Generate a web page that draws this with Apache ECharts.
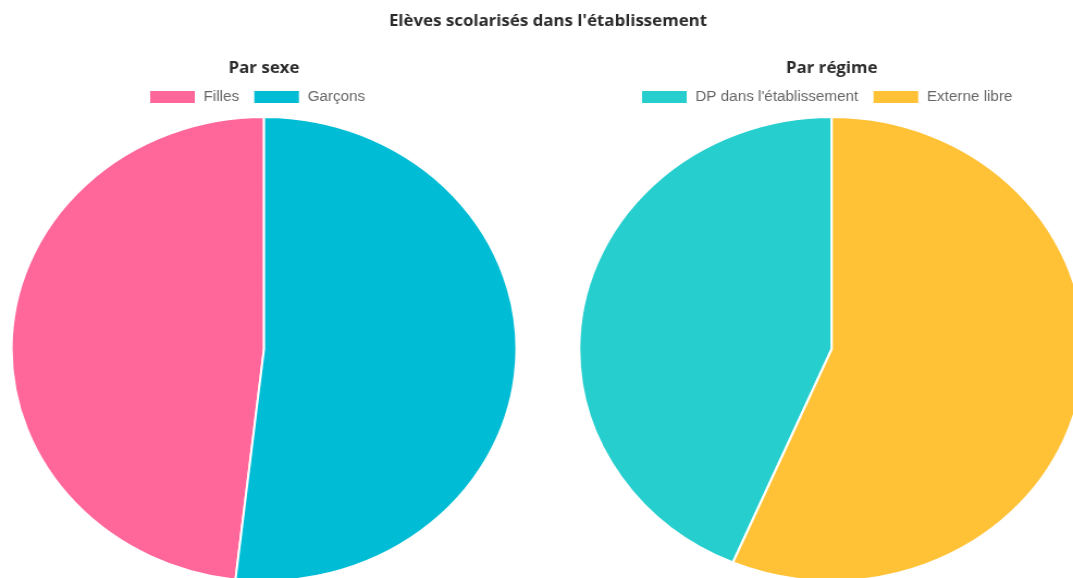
<!DOCTYPE html>
<html>
<head>
<meta charset="utf-8">
<script src="https://cdn.jsdelivr.net/npm/echarts@6/dist/echarts.min.js"></script>
<style>
  html, body { margin: 0; padding: 0; background: #fff; overflow: hidden; }
  #wrap { width: 1073px; height: 578px; overflow: hidden; }
  #chart { width: 986px; height: 578px; transform: scaleX(1.0882); transform-origin: 0 0; }
</style>
</head>
<body>
<div id="wrap"><div id="chart"></div></div>
<script>
const mainTitle = "Elèves scolarisés dans l'établissement";
const sexeTitle = "Par sexe";
const regimeTitle = "Par régime";
const sexeCategories = ["Filles", "Garçons"];
const sexeValues = [48.2, 51.8];
const sexeColors = ["#ff6699", "#00bcd5"];
const regimeCategories = ["DP dans l'établissement", "Externe libre"];
const regimeValues = [43.6, 56.4];
const regimeColors = ["#26cece", "#ffc236"];

const chart = echarts.init(document.getElementById('chart'), null, { renderer: 'canvas' });
const titleFont = { fontFamily: 'Open Sans', fontWeight: 'bold', color: '#2b2b2b' };
const legendCommon = {
  icon: 'rect', itemWidth: 43, itemHeight: 14, itemGap: 12, padding: 0,
  textStyle: { fontFamily: 'Liberation Sans', fontSize: 14, color: '#666', padding: [0, 0, 0, 2] },
  selectedMode: true
};
function pieData(cats, vals, cols) {
  return cats.map((c, i) => ({ name: c, value: vals[i], itemStyle: { color: cols[i] } }));
}
chart.setOption({
  animation: false,
  title: [
    { text: mainTitle, left: 503.6, top: 14, padding: 0, textAlign: 'center', textStyle: Object.assign({ fontSize: 15.5 }, titleFont) },
    { text: sexeTitle, left: 242.6, top: 61, padding: 0, textAlign: 'center', textStyle: Object.assign({ fontSize: 15.5 }, titleFont) },
    { text: regimeTitle, left: 764.3, top: 61, padding: 0, textAlign: 'center', textStyle: Object.assign({ fontSize: 15.5 }, titleFont) }
  ],
  legend: [
    Object.assign({ data: sexeCategories, left: 136, top: 89 }, legendCommon),
    Object.assign({ data: regimeCategories, left: 588, top: 89 }, legendCommon)
  ],
  series: [
    {
      type: 'pie', center: [242.6, 349], radius: 232, clockwise: false, startAngle: 90,
      label: { show: false }, labelLine: { show: false },
      itemStyle: { borderColor: '#fff', borderWidth: 2 },
      emphasis: { scale: false },
      data: pieData(sexeCategories, sexeValues, sexeColors)
    },
    {
      type: 'pie', center: [764.3, 349], radius: 232, clockwise: false, startAngle: 90,
      label: { show: false }, labelLine: { show: false },
      itemStyle: { borderColor: '#fff', borderWidth: 2 },
      emphasis: { scale: false },
      data: pieData(regimeCategories, regimeValues, regimeColors)
    }
  ]
});
</script>
</body>
</html>
